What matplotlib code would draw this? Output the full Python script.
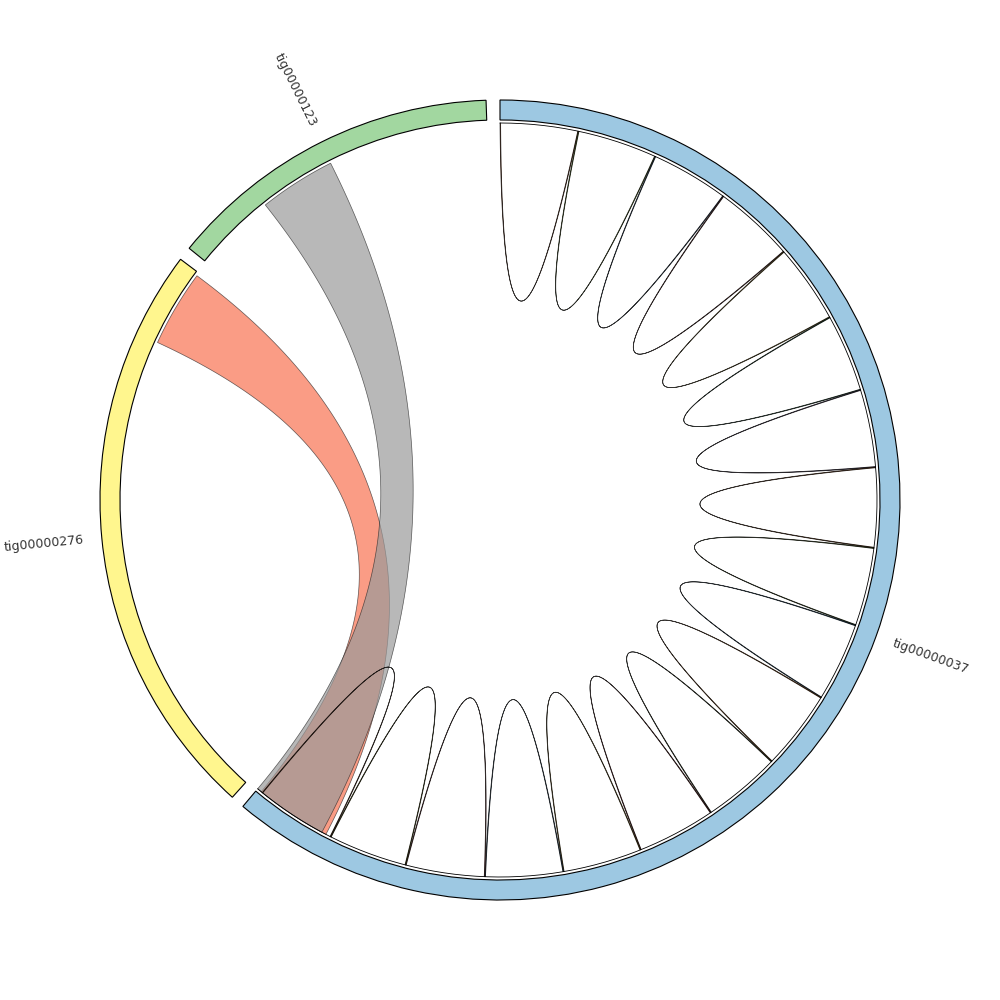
import numpy as np
import matplotlib
matplotlib.use("Agg")
import matplotlib.pyplot as plt
from matplotlib.patches import Wedge, Polygon

# ---------------- data ----------------
sector_names = ["tig00000037", "tig00000276", "tig00000123"]   # clockwise order
sector_lengths = [2200, 850, 490]                              # kb
sector_colors = ["#9DC8E2", "#FFF68E", "#A2D7A0"]

# self alignments on tig00000037 (consecutive repeat boundaries, kb)
repeat_bounds = [0, 120, 243, 363, 488, 610, 730, 850, 973, 1094,
                 1216, 1339, 1460, 1581, 1703, 1823, 1945, 2067, 2191]
repeat_colors = ["#E8743B", "#9ACD32", "#4F81BD", "#C0504D", "#F2C12E",
                 "#2E8B57", "#8064A2", "#D2691E", "#6B8E23", "#1F77B4",
                 "#FF7F0E", "#556B2F", "#B22222", "#DAA520", "#4682B4",
                 "#CD5C5C", "#808000", "#A0522D"]

# inter-contig links
link_s1 = ["tig00000276", "tig00000123"]
link_a1 = [727, 125]
link_a2 = [845, 243]
link_s2 = ["tig00000037", "tig00000037"]
link_b1 = [2075, 2082]
link_b2 = [2193, 2200]
link_colors = [(248/255, 114/255, 82/255), (154/255, 154/255, 154/255)]

# ---------------- layout ----------------
gap = 2.0
total_deg = 360 - gap * len(sector_names)
deg_per_kb = total_deg / sum(sector_lengths)
start_angle = {}
a = 90.0
for n, L in zip(sector_names, sector_lengths):
    start_angle[n] = a
    a -= L * deg_per_kb + gap

def ang(sector, pos):
    return np.deg2rad(start_angle[sector] - pos * deg_per_kb)

R_OUT, R_IN, R_LINK = 400, 380, 377

def arc(sector, p1, p2, r=R_LINK, n=60):
    t = np.linspace(ang(sector, p1), ang(sector, p2), n)
    return np.column_stack([r * np.cos(t), r * np.sin(t)])

def bez(P, Q, k, n=120):
    C = k * (P + Q) / 2
    t = np.linspace(0, 1, n)[:, None]
    return (1 - t) ** 2 * P + 2 * t * (1 - t) * C + t ** 2 * Q

def ribbon(s1, a1, a2, s2, b1, b2, k):
    A = arc(s1, a1, a2)
    B = arc(s2, b1, b2)
    c1 = bez(A[-1], B[0], k)
    c2 = bez(B[-1], A[0], k)
    return np.vstack([A, c1, B, c2])

fig = plt.figure(figsize=(10, 10), dpi=100)
ax = fig.add_axes([0, 0, 1, 1])
ax.set_xlim(-500, 500)
ax.set_ylim(-500, 500)
ax.set_aspect("equal")
ax.axis("off")

# sector tracks and labels
for n, L, c in zip(sector_names, sector_lengths, sector_colors):
    th_start = start_angle[n]
    th_end = th_start - L * deg_per_kb
    ax.add_patch(Wedge((0, 0), R_OUT, th_end, th_start, width=R_OUT - R_IN,
                       facecolor=c, edgecolor="black", lw=0.8))
    mid = (th_start + th_end) / 2
    m = np.deg2rad(mid)
    rot = mid % 360
    if 90 < rot < 270:
        rot -= 180
    elif rot >= 270:
        rot -= 360
    ax.text(458 * np.cos(m), 458 * np.sin(m), n, rotation=rot,
            ha="center", va="center", fontsize=9, color="#333333",
            rotation_mode="anchor")

# thin ring on tig00000037
ring = arc("tig00000037", 0, sector_lengths[0], r=R_LINK, n=400)
ax.plot(ring[:, 0], ring[:, 1], color="black", lw=0.6)

# inter-contig ribbons
for i in range(len(link_s1)):
    poly = ribbon(link_s1[i], link_a1[i], link_a2[i],
                  link_s2[i], link_b1[i], link_b2[i], 0.0)
    ax.add_patch(Polygon(poly, closed=True, facecolor=link_colors[i],
                         alpha=0.7, edgecolor="#222222", lw=0.5))

# self-repeat loops
w = 1
for i in range(len(repeat_bounds) - 1):
    p, q = repeat_bounds[i], repeat_bounds[i + 1]
    poly = ribbon("tig00000037", p, p + w, "tig00000037", q - w, q, 0.067)
    ax.add_patch(Polygon(poly, closed=True,
                         facecolor=repeat_colors[i % len(repeat_colors)],
                         alpha=0.8, edgecolor="black", lw=0.5))

fig.savefig("out.png", dpi=100, facecolor="white")
